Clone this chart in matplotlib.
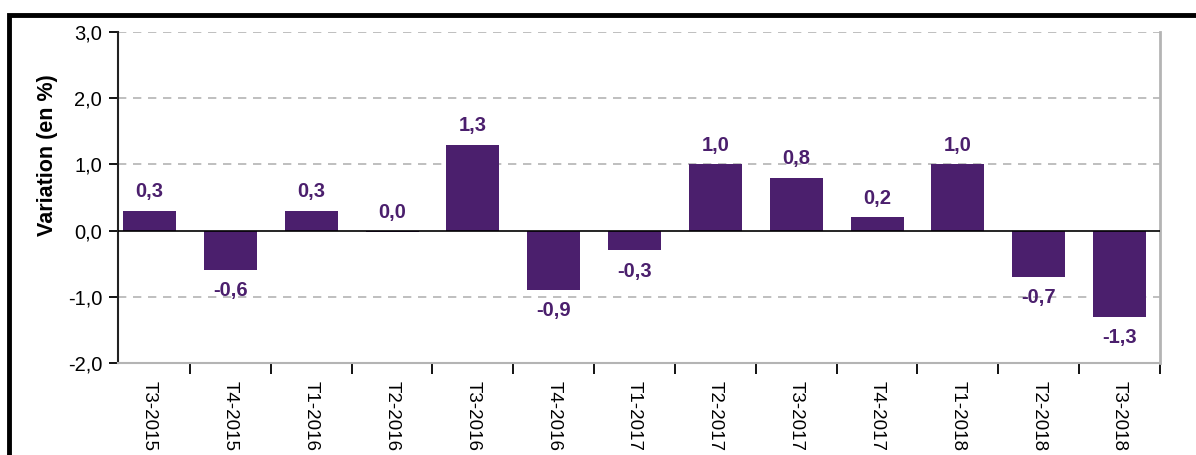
import matplotlib.pyplot as plt
import numpy as np
from matplotlib.patches import Rectangle

plt.rcParams['font.family'] = ['Liberation Sans', 'DejaVu Sans']

categories = ["T3-2015", "T4-2015", "T1-2016", "T2-2016", "T3-2016", "T4-2016", "T1-2017",
              "T2-2017", "T3-2017", "T4-2017", "T1-2018", "T2-2018", "T3-2018"]
values = [0.3, -0.6, 0.3, -0.02, 1.3, -0.9, -0.3, 1.0, 0.8, 0.2, 1.0, -0.7, -1.3]
y_ticks = [-2.0, -1.0, 0.0, 1.0, 2.0, 3.0]

bar_color = '#4b1f6d'
label_color = '#4b1f6d'

fig = plt.figure(figsize=(11.96, 4.55), dpi=100)
ax = fig.add_axes([118 / 1196, 1 - 363 / 455, (1160 - 118) / 1196, (363 - 32) / 455])

# outer frame of the figure
fig.patches.append(Rectangle((9 / 1196, -0.1), 1.2, 1 - 14.5 / 455 + 0.1, transform=fig.transFigure,
                             fill=False, edgecolor='black', linewidth=3.5, clip_on=False))

x = np.arange(len(categories))
ax.bar(x, values, width=0.656, color=bar_color, zorder=3)

for xi, v in zip(x, values):
    txt = "{:.1f}".format(abs(v) if round(v, 1) == 0 else v).replace('.', ',')
    if round(v, 1) >= 0:
        ax.annotate(txt, (xi, v), xytext=(0, 7), textcoords='offset points', ha='center', va='bottom',
                    fontsize=14.5, fontweight='bold', color=label_color)
    else:
        ax.annotate(txt, (xi, v), xytext=(0, -8), textcoords='offset points', ha='center', va='top',
                    fontsize=14.5, fontweight='bold', color=label_color)

ax.set_xlim(-0.39, len(categories) - 0.5)
ax.set_ylim(-2.0, 3.0)
ax.set_yticks(y_ticks)
ax.set_yticklabels(["{:.1f}".format(t).replace('.', ',') for t in y_ticks], fontsize=14.5)
ax.set_xticks(x)
ax.set_xticklabels(categories, rotation=270, fontsize=13.5)
ax.tick_params(axis='x', length=0, pad=13)
ax.set_xticks(np.arange(0.5, len(categories)), minor=True)
ax.tick_params(axis='x', which='minor', length=8, width=1.3, color='black', direction='out')
ax.tick_params(axis='y', length=6.5, width=1.3, color='black', direction='out', pad=5)

for t in [1.0, 2.0, 3.0, -1.0]:
    ax.axhline(t, color='#b4b4b4', linestyle=(0, (5, 4)), linewidth=1.2, zorder=1)
ax.axhline(0, color='black', linewidth=1.2, zorder=4)

ax.spines['top'].set_visible(False)
ax.spines['right'].set_color('#b4b4b4')
ax.spines['right'].set_linewidth(2)
ax.spines['bottom'].set_color('#b4b4b4')
ax.spines['bottom'].set_linewidth(1.5)
ax.spines['left'].set_color('#222222')
ax.spines['left'].set_linewidth(1.5)

ax.set_ylabel("Variation (en %)", fontsize=15.5, fontweight='bold')
ax.yaxis.set_label_coords(-(118 - 58) / 1042, (363 - 155) / 331)

fig.savefig("out.png", dpi=100)
